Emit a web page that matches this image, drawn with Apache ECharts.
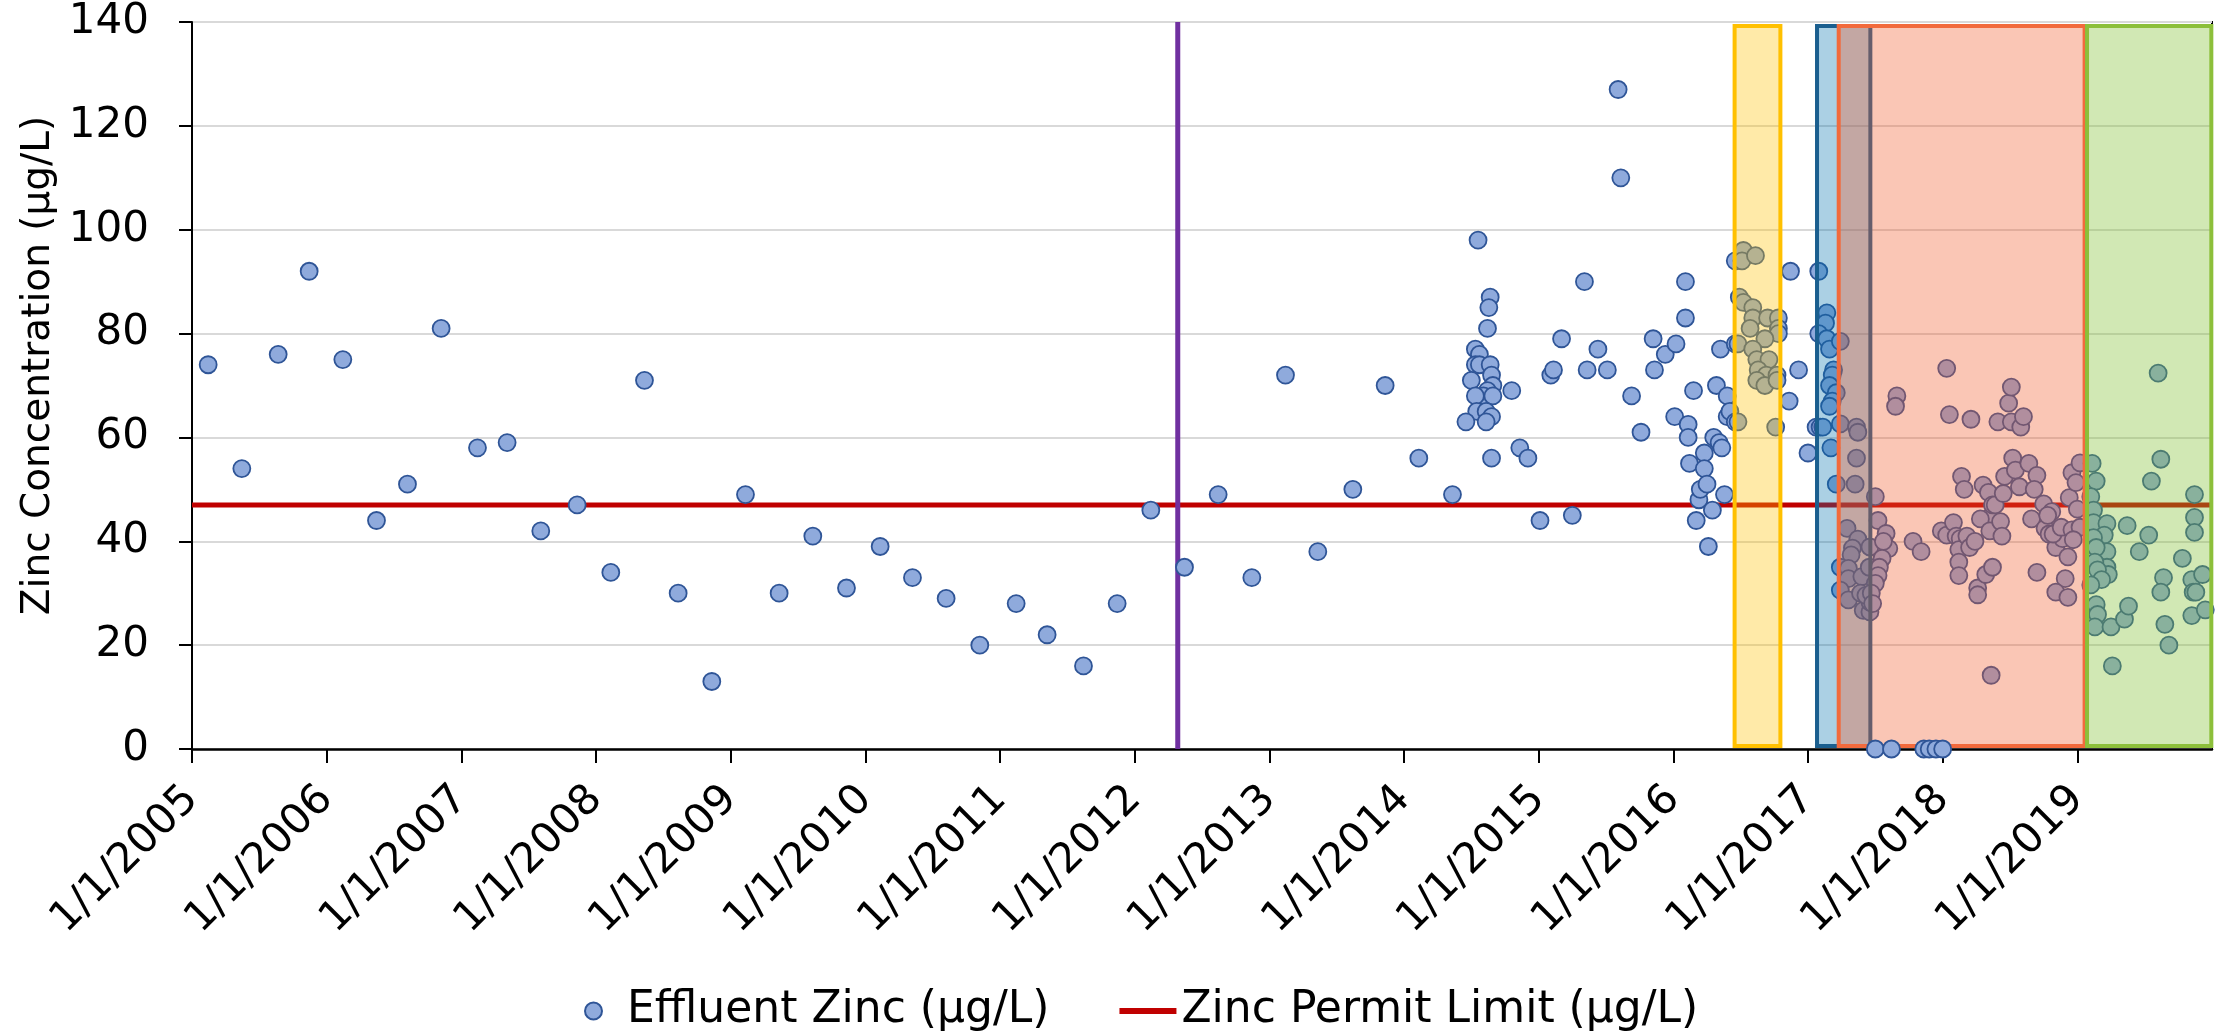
<!DOCTYPE html>
<html>
<head>
<meta charset="utf-8">
<title>Effluent Zinc Concentration</title>
<script src="https://cdn.jsdelivr.net/npm/echarts/dist/echarts.min.js"></script>
<style>
  html, body { margin: 0; padding: 0; background: #ffffff; }
  #chart { width: 2217px; height: 1033px; }
</style>
</head>
<body>
<div id="chart"></div>
<script>
// Effluent zinc samples as [decimal year, concentration in µg/L]
const zinc2005to2013 = [
  [2005.12, 74], [2005.37, 54], [2005.64, 76], [2005.87, 92], [2006.12, 75], [2006.37, 44],
  [2006.60, 51], [2006.85, 81], [2007.12, 58], [2007.34, 59], [2007.59, 42], [2007.86, 47],
  [2008.11, 34], [2008.36, 71], [2008.61, 30], [2008.86, 13], [2009.11, 49], [2009.36, 30],
  [2009.61, 41], [2009.86, 31], [2010.11, 39], [2010.35, 33], [2010.60, 29], [2010.85, 20],
  [2011.12, 28], [2011.35, 22], [2011.62, 16], [2011.87, 28], [2012.12, 46], [2012.37, 35],
  [2012.62, 49], [2012.87, 33], [2013.12, 72], [2013.36, 38], [2013.62, 50], [2013.86, 70]
];

const zinc2014 = [
  [2014.11, 56], [2014.36, 49], [2014.55, 98], [2014.64, 87], [2014.63, 85], [2014.62, 81],
  [2014.53, 77], [2014.56, 76], [2014.53, 74], [2014.56, 74], [2014.64, 74], [2014.65, 72],
  [2014.50, 71], [2014.66, 70], [2014.62, 69], [2014.59, 68], [2014.53, 68], [2014.66, 68],
  [2014.54, 65], [2014.61, 65], [2014.65, 64], [2014.46, 63], [2014.61, 63], [2014.65, 56],
  [2014.80, 69], [2014.86, 58], [2014.92, 56]
];

const zinc2015 = [
  [2015.01, 44], [2015.09, 72], [2015.11, 73], [2015.17, 79], [2015.25, 45], [2015.34, 90],
  [2015.36, 73], [2015.44, 77], [2015.51, 73], [2015.59, 127], [2015.61, 110], [2015.69, 68],
  [2015.76, 61], [2015.85, 79], [2015.86, 73], [2015.94, 76], [2016.02, 78], [2016.01, 64]
];

const zinc2016 = [
  [2016.09, 90], [2016.09, 83], [2016.11, 62.5], [2016.11, 60], [2016.12, 55], [2016.15, 69],
  [2016.17, 44], [2016.19, 48], [2016.20, 50], [2016.23, 57], [2016.23, 54], [2016.25, 51],
  [2016.26, 39], [2016.29, 46], [2016.30, 60], [2016.32, 70], [2016.34, 59], [2016.35, 77],
  [2016.36, 58], [2016.38, 49], [2016.40, 68], [2016.40, 64], [2016.42, 65], [2016.46, 63],
  [2016.46, 78], [2016.46, 94],
  [2016.52, 96], [2016.51, 94], [2016.61, 95], [2016.49, 87], [2016.52, 86], [2016.59, 85],
  [2016.59, 83], [2016.57, 81], [2016.70, 83], [2016.78, 83], [2016.78, 81], [2016.78, 80],
  [2016.68, 79], [2016.48, 78], [2016.59, 77], [2016.62, 75], [2016.71, 75], [2016.63, 73],
  [2016.69, 72], [2016.77, 72], [2016.62, 71], [2016.68, 70], [2016.77, 71], [2016.48, 63],
  [2016.76, 62],
  [2016.87, 92], [2016.93, 73], [2016.86, 67], [2017.00, 57]
];

const zinc2017 = [
  [2017.08, 92], [2017.14, 84], [2017.13, 82], [2017.08, 80], [2017.14, 79], [2017.16, 77],
  [2017.24, 78.5], [2017.19, 73], [2017.18, 72], [2017.16, 70], [2017.21, 68.6], [2017.18, 67],
  [2017.16, 66], [2017.06, 62], [2017.09, 62], [2017.11, 62], [2017.24, 62.6], [2017.17, 58],
  [2017.21, 51],
  [2017.36, 62], [2017.37, 61], [2017.36, 56], [2017.35, 51], [2017.50, 48.6], [2017.29, 42.5],
  [2017.37, 40.4], [2017.33, 38.7], [2017.32, 37.4], [2017.24, 35], [2017.30, 34.8], [2017.30, 32.8],
  [2017.40, 33.2], [2017.24, 30.6], [2017.30, 28.7], [2017.39, 30], [2017.41, 26.7], [2017.46, 26.4],
  [2017.46, 28.3], [2017.43, 29.6], [2017.455, 35], [2017.46, 38.9], [2017.52, 44], [2017.58, 41.5],
  [2017.60, 38.6], [2017.56, 40], [2017.55, 36.7], [2017.53, 35], [2017.52, 33.4], [2017.50, 31.9],
  [2017.47, 30], [2017.48, 28],
  [2017.50, 0], [2017.62, 0], [2017.86, 0], [2017.90, 0], [2017.95, 0], [2018.00, 0],
  [2017.66, 68], [2017.65, 66], [2017.78, 40], [2017.84, 38]
];

const zinc2018 = [
  [2018.03, 73.3], [2018.05, 64.4], [2018.21, 63.5], [2018.14, 52.5], [2018.16, 50], [2017.99, 42],
  [2018.03, 41.2], [2018.08, 43.6], [2018.10, 41], [2018.13, 40.5], [2018.12, 38.4], [2018.12, 36],
  [2018.12, 33.4], [2018.18, 41], [2018.20, 38.8], [2018.24, 40], [2018.26, 31], [2018.26, 29.7],
  [2018.30, 50.8], [2018.34, 49.4], [2018.35, 44.6], [2018.37, 47], [2018.39, 47], [2018.28, 44.3],
  [2018.32, 33.6], [2018.37, 35], [2018.36, 14.2], [2018.41, 63], [2018.35, 42], [2018.43, 43.8],
  [2018.44, 41], [2018.45, 49.2], [2018.46, 52.5], [2018.49, 66.6], [2018.51, 69.7], [2018.51, 63],
  [2018.58, 62], [2018.60, 64], [2018.52, 56], [2018.54, 53.7], [2018.57, 50.5], [2018.64, 55],
  [2018.70, 52.7], [2018.68, 50], [2018.66, 44.3], [2018.70, 34], [2018.75, 47.2], [2018.81, 45.7],
  [2018.76, 42.5], [2018.79, 41.4], [2018.78, 45], [2018.84, 38.8], [2018.89, 40.5], [2018.82, 41.4],
  [2018.88, 42.7], [2018.93, 37], [2018.91, 32.8], [2018.84, 30.2], [2018.93, 29.2], [2018.96, 53.2],
  [2018.94, 48.4], [2018.99, 51.3], [2019.02, 55.1], [2018.96, 42.2], [2019.02, 42.7], [2018.97, 40.3],
  [2019.00, 46.2]
];

const zinc2019 = [
  [2019.11, 55], [2019.14, 51.6], [2019.10, 48.6], [2019.12, 46], [2019.12, 43.6], [2019.22, 43.4],
  [2019.20, 41.2], [2019.19, 38], [2019.22, 38], [2019.22, 35], [2019.23, 33.6], [2019.12, 40.7],
  [2019.14, 38.8], [2019.13, 36], [2019.15, 34.5], [2019.18, 32.6], [2019.10, 31.6], [2019.14, 27.8],
  [2019.15, 25.9], [2019.13, 23.5], [2019.25, 23.5], [2019.26, 16], [2019.37, 43], [2019.35, 25],
  [2019.38, 27.5], [2019.46, 38], [2019.53, 41.2], [2019.55, 51.6], [2019.62, 55.8], [2019.60, 72.4],
  [2019.64, 33], [2019.62, 30.2], [2019.65, 24], [2019.68, 20], [2019.78, 36.7], [2019.87, 49],
  [2019.87, 44.6], [2019.87, 41.7], [2019.85, 32.6], [2019.86, 30.2], [2019.88, 30.2], [2019.85, 25.7],
  [2019.93, 33.6], [2019.95, 26.8]
];

// Permit limit and the date marked by the vertical line
const permitLimit = 47;
const permitSpan = [2005, 2020];
const markerDate = 2012.32;

// Operating periods highlighted as boxes: [start, end] in decimal years
const operatingPeriods = [
  [2016.455, 2016.795],
  [2017.067, 2017.463],
  [2017.228, 2019.054],
  [2019.072, 2019.995]
];

// Axis ranges
const yearMin = 2005;
const yearMax = 2020;
const concMin = 0;
const concMax = 140;
const concStep = 20;

const SERIES_ZINC = 'Effluent Zinc (µg/L)';
const SERIES_LIMIT = 'Zinc Permit Limit (µg/L)';
const FONT = '"DejaVu Sans", Verdana, sans-serif';

const periodStyles = [
  { fill: 'rgba(255, 192, 0, 0.34)',  stroke: '#FFC000' },
  { fill: 'rgba(0, 112, 172, 0.33)',  stroke: '#1B5F8F' },
  { fill: 'rgba(240, 92, 42, 0.35)',  stroke: '#F26A3C' },
  { fill: 'rgba(128, 190, 48, 0.36)', stroke: '#8CBF3A' }
];

const allSamples = [].concat(zinc2005to2013, zinc2014, zinc2015, zinc2016, zinc2017, zinc2018, zinc2019);
const detectedSamples = allSamples.filter(function (d) { return d[1] > 0; });
const nonDetectSamples = allSamples.filter(function (d) { return d[1] === 0; });

const markerStyle = {
  color: '#8FAADC',
  borderColor: '#2F5597',
  borderWidth: 1.8,
  opacity: 1
};

const chart = echarts.init(document.getElementById('chart'));

chart.setOption({
  animation: false,
  backgroundColor: '#ffffff',
  textStyle: { fontFamily: FONT },
  grid: {
    left: 192, right: 5, top: 22, bottom: 284,
    show: true, borderColor: '#000000', borderWidth: 2
  },
  legend: {
    data: [
      { name: SERIES_ZINC, icon: 'circle' },
      { name: SERIES_LIMIT, icon: 'path://M0,0H57V6H0Z' }
    ],
    left: 579,
    top: 984,
    itemWidth: 57,
    itemHeight: 17,
    itemGap: 70,
    symbolKeepAspect: true,
    textStyle: { fontSize: 44, color: '#000000', fontFamily: FONT }
  },
  xAxis: {
    type: 'value',
    min: yearMin,
    max: yearMax,
    interval: 1,
    axisLine: { lineStyle: { color: '#000000', width: 2.5 } },
    axisTick: { show: true, length: 14, lineStyle: { color: '#000000', width: 2 } },
    splitLine: { show: false },
    axisLabel: {
      rotate: 45,
      margin: 44,
      fontSize: 42,
      color: '#000000',
      fontFamily: FONT,
      showMaxLabel: false,
      formatter: function (v) { return v >= yearMax ? '' : '1/1/' + v; }
    }
  },
  yAxis: {
    type: 'value',
    min: concMin,
    max: concMax,
    interval: concStep,
    name: 'Zinc Concentration (µg/L)',
    nameLocation: 'middle',
    nameGap: 127,
    nameTextStyle: { fontSize: 39, color: '#000000', fontFamily: FONT, padding: [0, 0, 0, 40] },
    axisLine: { show: true, lineStyle: { color: '#000000', width: 2 } },
    axisTick: { show: true, length: 13, lineStyle: { color: '#000000', width: 2 } },
    splitLine: { show: true, lineStyle: { color: '#D9D9D9', width: 2 } },
    axisLabel: { margin: 43, fontSize: 42, color: '#000000', fontFamily: FONT }
  },
  series: [
    {
      name: SERIES_LIMIT,
      type: 'line',
      z: 1,
      symbol: 'none',
      data: [[permitSpan[0], permitLimit], [permitSpan[1], permitLimit]],
      lineStyle: { color: '#C00000', width: 5 },
      itemStyle: { color: '#C00000' }
    },
    {
      name: 'marker-date',
      type: 'line',
      z: 1,
      symbol: 'none',
      data: [[markerDate, concMin], [markerDate, concMax]],
      lineStyle: { color: '#7030A0', width: 5 }
    },
    {
      name: SERIES_ZINC,
      type: 'scatter',
      z: 2,
      symbol: 'circle',
      symbolSize: 17,
      data: detectedSamples,
      itemStyle: markerStyle
    },
    {
      name: 'operating-periods',
      type: 'custom',
      z: 3,
      clip: false,
      data: operatingPeriods,
      encode: { x: [0, 1] },
      renderItem: function (params, api) {
        const topLeft = api.coord([api.value(0), concMax]);
        const bottomRight = api.coord([api.value(1), concMin]);
        const s = periodStyles[params.dataIndex];
        return {
          type: 'rect',
          shape: {
            x: topLeft[0],
            y: topLeft[1] + 4,
            width: bottomRight[0] - topLeft[0],
            height: bottomRight[1] - topLeft[1] - 7
          },
          style: { fill: s.fill, stroke: s.stroke, lineWidth: 4 }
        };
      }
    },
    {
      name: SERIES_ZINC,
      type: 'scatter',
      z: 4,
      symbol: 'circle',
      symbolSize: 17,
      clip: false,
      data: nonDetectSamples,
      itemStyle: markerStyle
    }
  ]
});
</script>
</body>
</html>
